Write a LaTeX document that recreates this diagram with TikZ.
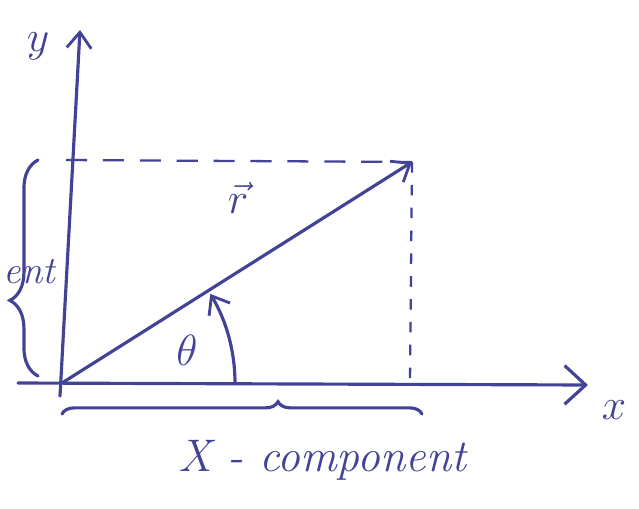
\documentclass[tikz,border=0pt]{standalone}
\usepackage{amsmath,amssymb}
\usepackage{xcolor}
\usepackage{tikz}
\usetikzlibrary{arrows.meta,calc,decorations.pathreplacing,positioning}
\definecolor{pen}{RGB}{66,66,150}
\tikzset{
  ink/.style={draw=pen,line width=1.8pt,line cap=round},
  chevron/.style={-{Straight Barb[length=12pt,width=22pt,line width=1.8pt]}},
  smallchevron/.style={-{Straight Barb[length=9pt,width=14pt,line width=1.6pt]}},
  guide/.style={draw=pen,line width=1.3pt,dash pattern=on 12pt off 9pt},
  hand/.style={text=pen,font=\fontsize{26}{30}\selectfont\itshape},
  bigsym/.style={text=pen,font=\fontsize{30}{34}\selectfont},
}

\begin{document}
\begin{tikzpicture}[x=0.02cm,y=-0.02cm,>=Latex]
  \useasboundingbox (0,0) rectangle (639,508);
  \clip (0,0) rectangle (639,508);
  % axes
  \coordinate (O) at (62,383);
  \coordinate (ystart) at (60,396);
  \coordinate (ytop) at (80,30);
  \coordinate (xstart) at (18,383);
  \coordinate (xend) at (588,385);
  \draw[ink,smallchevron] (ystart) -- (ytop);
  \draw[ink,chevron] (xstart) -- (xend);
  \node[bigsym] (ylab) at (38,46) {$y$};
  \node[bigsym] (xlab) at (614,410) {$x$};
  % the vector and its projections
  \coordinate (P) at (412,162);
  \coordinate (Py) at (66,160);
  \coordinate (Px) at (410,383);
  \draw[guide] (Py) -- (P);
  \draw[draw=pen,line width=1.3pt,dash pattern=on 6pt off 7pt] (P) -- (Px);
  \draw[ink,smallchevron] (O) -- (P);
  \node[bigsym,font=\fontsize{34}{38}\selectfont] (rlab) at (238,198) {$\vec{r}$};
  % angle
  \draw[ink,smallchevron] ($(O)+(173,0)$) arc[start angle=0,end angle=-31,radius=173];
  \node[bigsym] (thlab) at (187,350) {$\theta$};
  % components
  \coordinate (ybot) at (38,376);
  \coordinate (ytopb) at (38,160);
  \draw[ink,decorate,decoration={brace,amplitude=16pt,aspect=0.35}] (ybot) -- (ytopb);
  \node[hand,font=\fontsize{22}{26}\selectfont\itshape,anchor=east,inner sep=1pt] (ycomp) at (57,272) {ent};
  \coordinate (xl) at (62,414);
  \coordinate (xr) at (422,414);
  \draw[ink,decorate,decoration={brace,amplitude=7pt,aspect=0.6}] (xl) -- (xr);
  \node[hand] (xcomp) at (322,460) {X - component};
\end{tikzpicture}
\end{document}
